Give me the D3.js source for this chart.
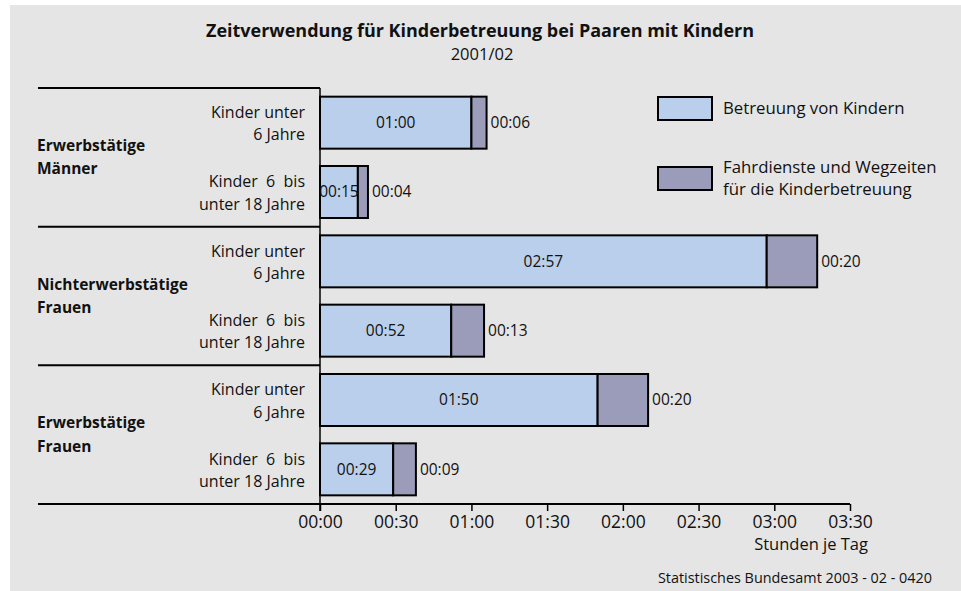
<!DOCTYPE html>
<html>
<head>
<meta charset="utf-8">
<script src="https://cdn.jsdelivr.net/npm/d3@7"></script>
<style>
  body { margin: 0; background: #fff; }
  svg { display: block; font-family: "Open Sans", sans-serif; fill: #111; }
</style>
</head>
<body>
<div id="chart"></div>
<script>
// data (minutes per day)
const groups = ['Erwerbstätige|Männer', 'Nichterwerbstätige|Frauen', 'Erwerbstätige|Frauen'];
const ageLabels = ['Kinder unter|6 Jahre', 'Kinder  6  bis|unter 18 Jahre'];
const care = [60, 15, 177, 52, 110, 29];
const travel = [6, 4, 20, 13, 20, 9];
const seriesNames = ['Betreuung von Kindern', 'Fahrdienste und Wegzeiten|für die Kinderbetreuung'];
const ticks = [0, 30, 60, 90, 120, 150, 180, 210];

const colors = ['#bacfeb', '#9a9cba'];
const W = 961, H = 591;

const rows = care.map((c, i) => ({ id: i, group: Math.floor(i / 2), age: i % 2, care: c, travel: travel[i] }));

const fmt = m => d3.format('02')(Math.floor(m / 60)) + ':' + d3.format('02')(m % 60);

const svg = d3.select('#chart').append('svg')
    .attr('width', W).attr('height', H);

svg.append('rect')
    .attr('x', 10).attr('y', 5).attr('width', W - 10).attr('height', H - 5)
    .attr('fill', '#e5e5e5');

const x = d3.scaleLinear().domain([0, 210]).range([320, 850]);
const y = d3.scaleBand().domain(rows.map(d => d.id)).range([88, 504])
    .paddingInner(0.25).paddingOuter(0.125);
const groupStep = (504 - 88) / groups.length;

// title
svg.append('text')
    .attr('x', 480).attr('y', 37)
    .attr('text-anchor', 'middle')
    .style('font-size', '17.5px').style('font-weight', 'bold')
    .attr('textLength', 548).attr('lengthAdjust', 'spacingAndGlyphs')
    .text('Zeitverwendung für Kinderbetreuung bei Paaren mit Kindern');
svg.append('text')
    .attr('x', 482).attr('y', 60)
    .attr('text-anchor', 'middle')
    .style('font-size', '16.5px')
    .text('2001/02');

// group separator lines
svg.append('g').selectAll('line')
    .data(d3.range(groups.length))
    .join('line')
    .attr('x1', 38).attr('x2', 320)
    .attr('y1', i => 88 + i * groupStep).attr('y2', i => 88 + i * groupStep)
    .attr('stroke', '#000').attr('stroke-width', 2);

// axis
const axisG = svg.append('g')
    .attr('transform', 'translate(0,504)')
    .call(d3.axisBottom(x).tickValues(ticks).tickFormat(fmt).tickSize(7).tickPadding(5));
axisG.select('.domain').remove();
axisG.selectAll('.tick line').attr('stroke', '#000').attr('stroke-width', 1.5);
axisG.selectAll('.tick text')
    .style('font-family', '"Open Sans", sans-serif')
    .style('font-size', '17.5px').attr('fill', '#111');
svg.append('line')
    .attr('x1', 38).attr('x2', x(210)).attr('y1', 504).attr('y2', 504)
    .attr('stroke', '#000').attr('stroke-width', 2);
svg.append('line')
    .attr('x1', x(0)).attr('x2', x(0)).attr('y1', 88).attr('y2', 511)
    .attr('stroke', '#000').attr('stroke-width', 1.5);

svg.append('text')
    .attr('x', 868).attr('y', 550)
    .attr('text-anchor', 'end')
    .style('font-size', '16.5px')
    .text('Stunden je Tag');

// bars
const bars = svg.append('g');
bars.selectAll('rect.care')
    .data(rows)
    .join('rect')
    .attr('class', 'care')
    .attr('x', x(0))
    .attr('y', d => y(d.id))
    .attr('width', d => x(d.care) - x(0))
    .attr('height', y.bandwidth())
    .attr('fill', colors[0]).attr('stroke', '#000').attr('stroke-width', 2);
bars.selectAll('rect.travel')
    .data(rows)
    .join('rect')
    .attr('class', 'travel')
    .attr('x', d => x(d.care))
    .attr('y', d => y(d.id))
    .attr('width', d => x(d.care + d.travel) - x(d.care))
    .attr('height', y.bandwidth())
    .attr('fill', colors[1]).attr('stroke', '#000').attr('stroke-width', 2);

// value labels
bars.selectAll('text.cv')
    .data(rows)
    .join('text')
    .attr('class', 'cv')
    .attr('x', d => (x(0) + x(d.care)) / 2)
    .attr('y', d => y(d.id) + y.bandwidth() / 2)
    .attr('dy', '0.35em')
    .attr('text-anchor', 'middle')
    .style('font-size', '15.5px')
    .text(d => fmt(d.care));
bars.selectAll('text.tv')
    .data(rows)
    .join('text')
    .attr('class', 'tv')
    .attr('x', d => x(d.care + d.travel) + 4)
    .attr('y', d => y(d.id) + y.bandwidth() / 2)
    .attr('dy', '0.35em')
    .style('font-size', '15.5px')
    .text(d => fmt(d.travel));

// row labels
svg.append('g').selectAll('text')
    .data(rows)
    .join('text')
    .attr('text-anchor', 'end')
    .style('font-size', '16px')
    .attr('y', d => y(d.id) + y.bandwidth() / 2)
    .each(function (d) {
        const lines = ageLabels[d.age].split('|');
        d3.select(this).selectAll('tspan')
            .data(lines)
            .join('tspan')
            .attr('x', 305)
            .attr('dy', (l, i) => i === 0 ? '-0.3em' : '1.4em')
            .style('white-space', 'pre')
            .text(l => l);
    });

// group labels
svg.append('g').selectAll('text')
    .data(groups)
    .join('text')
    .style('font-size', '15.5px').style('font-weight', 'bold')
    .attr('y', (g, i) => 88 + (i + 0.5) * groupStep)
    .each(function (g) {
        d3.select(this).selectAll('tspan')
            .data(g.split('|'))
            .join('tspan')
            .attr('x', 37)
            .attr('dy', (l, i) => i === 0 ? '-0.4em' : '1.5em')
            .text(l => l);
    });

// legend
const legend = svg.append('g');
const legendY = [97, 167];
legend.selectAll('rect')
    .data(seriesNames)
    .join('rect')
    .attr('x', 658).attr('y', (d, i) => legendY[i])
    .attr('width', 54).attr('height', 23)
    .attr('fill', (d, i) => colors[i]).attr('stroke', '#000').attr('stroke-width', 2);
legend.selectAll('text')
    .data(seriesNames)
    .join('text')
    .style('font-size', '16.8px')
    .attr('y', (d, i) => i === 0 ? 114 : 173)
    .each(function (d) {
        d3.select(this).selectAll('tspan')
            .data(d.split('|'))
            .join('tspan')
            .attr('x', 723)
            .attr('dy', (l, i) => i === 0 ? 0 : '1.3em')
            .text(l => l);
    });

svg.append('text')
    .attr('x', 932).attr('y', 583)
    .attr('text-anchor', 'end')
    .style('font-size', '14.4px')
    .text('Statistisches Bundesamt 2003 - 02 - 0420');
</script>
</body>
</html>
